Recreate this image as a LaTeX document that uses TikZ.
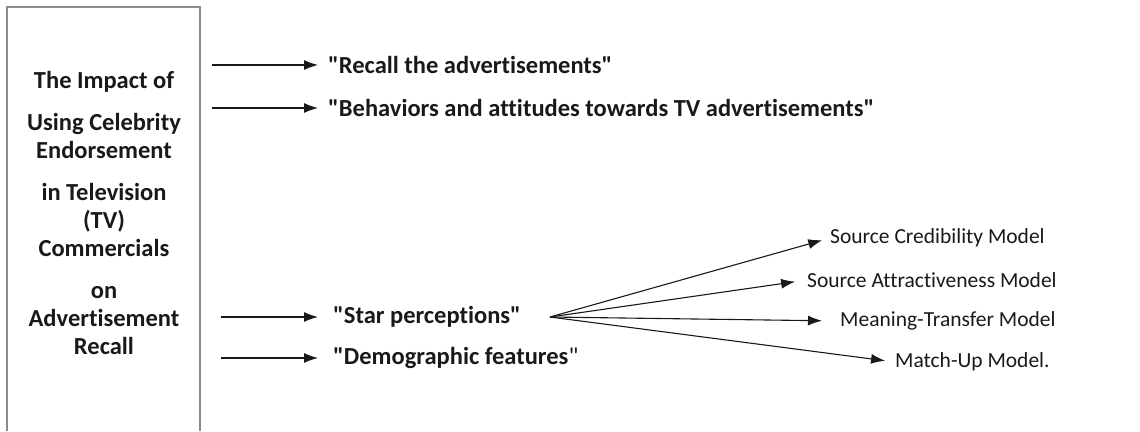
\documentclass[tikz,border=0pt]{standalone}
\usepackage{fontspec}
\setmainfont{Carlito}[Ligatures={TeXOff,NoCommon}]
\usetikzlibrary{positioning,arrows.meta}
\tikzset{>={Latex[length=14pt,width=10pt]}}

\begin{document}
\begin{tikzpicture}[x=1pt,y=-1pt, every node/.style={inner sep=0pt, text=black!90}]
      \useasboundingbox (0,0) rectangle (1140,431);
      % frame (open at the bottom)
      \draw[black!45, line width=1.3pt] (7,431) -- (7,7) -- (200,7) -- (200,431);
      \node[align=center, font=\bfseries\fontsize{24.5}{28}\selectfont] (title) at (104,213) {The Impact of\\[14pt] Using Celebrity\\ Endorsement\\[14pt] in Television\\ (TV)\\ Commercials\\[14pt] on\\ Advertisement\\ Recall};
      \node[anchor=west, font=\bfseries\fontsize{24.5}{28}\selectfont] (recall) at (328,65) {"Recall the advertisements"};
      \node[anchor=west, font=\bfseries\fontsize{24.5}{28}\selectfont] (behav) at (328,108) {"Behaviors and attitudes towards TV advertisements"};
      \node[anchor=west, font=\bfseries\fontsize{24.5}{28}\selectfont] (star) at (333,317) {"Star perceptions"};
      \node[anchor=west, font=\bfseries\fontsize{24.5}{28}\selectfont] (demog) at (333,358) {"Demographic features\textmd{"}};
      \node[anchor=west, font=\fontsize{21.5}{25}\selectfont] (cred) at (830,238) {Source Credibility Model};
      \node[anchor=west, font=\fontsize{21.5}{25}\selectfont] (attr) at (807,280) {Source Attractiveness Model};
      \node[anchor=west, font=\fontsize{21.5}{25}\selectfont] (mean) at (840,321) {Meaning-Transfer Model};
      \node[anchor=west, font=\fontsize{21.5}{25}\selectfont] (match) at (895,362) {Match-Up Model.};
      \coordinate (a1) at (212,65);
      \coordinate (a2) at (212,108);
      \coordinate (a3) at (221,317);
      \coordinate (a4) at (221,358);
      \coordinate (fan) at (550,317);
      \draw[->, black!90, line width=1.1pt, shorten >=10pt] (a1) -- (recall.west);
      \draw[->, black!90, line width=1.1pt, shorten >=10pt] (a2) -- (behav.west);
      \draw[->, black!90, line width=1.1pt, shorten >=15pt] (a3) -- (star.west);
      \draw[->, black!90, line width=1.1pt, shorten >=15pt] (a4) -- (demog.west);
      \draw[->, black!90, line width=1.1pt, shorten >=8pt] (fan) -- (cred.west);
      \draw[->, black!90, line width=1.1pt, shorten >=12pt] (fan) -- (attr.west);
      \draw[->, black!90, line width=1.1pt, shorten >=18pt] (fan) -- (mean.west);
      \draw[->, black!90, line width=1.1pt, shorten >=10pt] (fan) -- (match.west);
    \end{tikzpicture}
\end{document}
